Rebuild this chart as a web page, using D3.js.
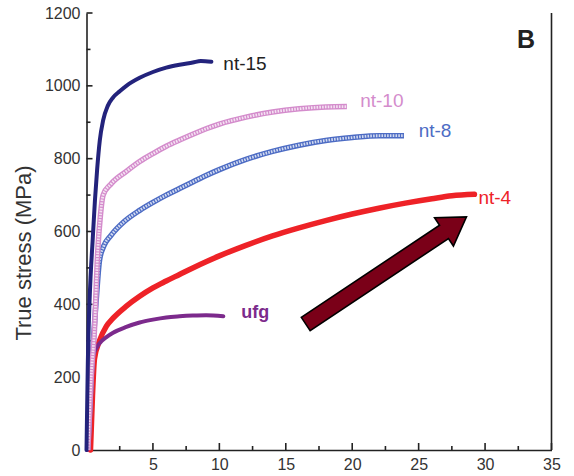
<!DOCTYPE html>
<html>
<head>
<meta charset="utf-8">
<script src="https://cdn.jsdelivr.net/npm/d3@7"></script>
<style>
    body { margin: 0; background: #fff; }
    text { font-family: "Liberation Sans", Arial, sans-serif; }
</style>
</head>
<body>
<div id="chart"></div>
<script>
    // strain (%) / true stress (MPa)
    var nt15 = [[0, 0], [0.1, 240], [0.5, 600], [0.8, 770], [1.0, 850], [1.25, 905], [1.6, 945], [2, 968],
        [2.5, 985], [3, 1000], [4, 1022], [5, 1038], [6, 1050], [7, 1058], [8, 1064], [8.6, 1068], [9.4, 1066]];
    var nt10 = [[0.1, 0], [0.35, 200], [0.6, 330], [0.85, 549], [1.05, 645], [1.25, 700], [1.86, 731], [3, 765],
        [4, 792], [5, 814], [6, 834], [7, 851], [8, 867], [9, 882], [10, 895], [12, 914], [14, 928],
        [16, 937], [18, 942], [19.6, 943]];
    var nt8 = [[0.1, 0], [0.4, 230], [0.73, 411], [0.98, 521], [1.3, 560], [1.86, 590], [2.86, 628], [4, 658],
        [5, 680], [6, 700], [7, 718], [8, 736], [9, 754], [10, 770], [12, 798], [14, 820], [16, 837],
        [18, 850], [20, 858], [22, 863], [23.9, 863]];
    var nt4 = [[0.3, 0], [0.45, 150], [0.6, 250], [0.98, 300], [1.5, 340], [2, 362], [3, 395], [4, 422],
        [5, 445], [6, 464], [7, 482], [8, 500], [9, 517], [10, 533], [12, 562], [14, 588], [16, 610],
        [18, 630], [20, 648], [22, 664], [24, 678], [26, 690], [27.5, 698], [29.2, 702]];
    var ufg = [[0.05, 0], [0.23, 183], [0.47, 256], [0.98, 293], [1.5, 310], [2, 322], [3, 338], [4, 350],
        [5, 358], [6, 364], [7, 367], [8, 369], [9, 370], [10.3, 367]];

    var seriesNames = ["nt-15", "nt-10", "nt-8", "nt-4", "ufg"];
    var seriesValues = [nt15, nt10, nt8, nt4, ufg];
    var seriesColors = ["#23237c", "#d48ccc", "#4d6cc4", "#ee2227", "#7c2a8c"];
    var hollow = [false, true, true, false, false];
    // label anchor in data units
    var labelPos = [[10.3, 1061], [20.6, 960], [25.0, 878], [29.5, 694], [11.65, 379]];

    var xTicks = [5, 10, 15, 20, 25, 30, 35];
    var xMinor = [2.5, 7.5, 12.5, 17.5, 22.5, 27.5, 32.5];
    var yTicks = [0, 200, 400, 600, 800, 1000, 1200];
    var yMinor = [100, 300, 500, 700, 900, 1100];
    var arrowFrom = [16.5, 346];
    var arrowTo = [28.6, 640];

    var width = 574, height = 476;
    var svg = d3.select("#chart").append("svg")
        .attr("width", width)
        .attr("height", height);

    var x = d3.scaleLinear().domain([0, 35]).range([86.5, 551.5]);
    var y = d3.scaleLinear().domain([0, 1200]).range([450, 13]);

    var axisColor = "#222";

    // left axis
    var yAxis = svg.append("g").attr("transform", "translate(" + x(0) + ",0)");
    yAxis.call(d3.axisLeft(y).tickValues(yTicks).tickFormat(d3.format("d")).tickSize(0).tickPadding(6));
    yAxis.select(".domain").attr("stroke", axisColor).attr("stroke-width", 1.6);
    yAxis.selectAll("text").attr("font-size", 16).attr("fill", "#333")
        .attr("font-family", "Liberation Sans, Arial, sans-serif");
    yAxis.selectAll("line.maj").data(yTicks.filter(function (d) { return d > 0; })).enter()
        .append("line").attr("class", "maj")
        .attr("x1", 0).attr("x2", 6)
        .attr("y1", function (d) { return y(d); }).attr("y2", function (d) { return y(d); })
        .attr("stroke", axisColor).attr("stroke-width", 1.6);
    yAxis.selectAll("line.min").data(yMinor).enter()
        .append("line").attr("class", "min")
        .attr("x1", 0).attr("x2", 4)
        .attr("y1", function (d) { return y(d); }).attr("y2", function (d) { return y(d); })
        .attr("stroke", axisColor).attr("stroke-width", 1.6);

    // bottom axis
    var xAxis = svg.append("g").attr("transform", "translate(0," + y(0) + ")");
    xAxis.call(d3.axisBottom(x).tickValues(xTicks).tickSize(0).tickPadding(9));
    xAxis.select(".domain").attr("stroke", axisColor).attr("stroke-width", 1.6);
    xAxis.selectAll("text").attr("font-size", 16).attr("fill", "#333")
        .attr("font-family", "Liberation Sans, Arial, sans-serif");
    xAxis.selectAll("line.maj").data(xTicks).enter()
        .append("line").attr("class", "maj")
        .attr("y1", 0).attr("y2", -7)
        .attr("x1", function (d) { return x(d); }).attr("x2", function (d) { return x(d); })
        .attr("stroke", axisColor).attr("stroke-width", 1.6);
    xAxis.selectAll("line.min").data(xMinor).enter()
        .append("line").attr("class", "min")
        .attr("y1", 0).attr("y2", -4)
        .attr("x1", function (d) { return x(d); }).attr("x2", function (d) { return x(d); })
        .attr("stroke", axisColor).attr("stroke-width", 1.6);

    // right frame line
    svg.append("line")
        .attr("x1", x(35)).attr("x2", x(35))
        .attr("y1", y(1200)).attr("y2", y(0))
        .attr("stroke", axisColor).attr("stroke-width", 1.6);

    svg.append("text")
        .attr("transform", "translate(31," + 253 + ") rotate(-90)")
        .attr("text-anchor", "middle")
        .attr("font-size", 22)
        .attr("fill", "#333")
        .text("True stress (MPa)");

    var line = d3.line()
        .x(function (d) { return x(d[0]); })
        .y(function (d) { return y(d[1]); })
        .curve(d3.curveMonotoneX);

    var curves = svg.append("g");
    // draw back to front so the thin early parts overlap like the figure
    [3, 4, 2, 1, 0].forEach(function (i) {
        if (hollow[i]) {
            curves.append("path")
                .attr("d", line(seriesValues[i]))
                .attr("fill", "none")
                .attr("stroke", seriesColors[i])
                .attr("stroke-width", 5.5)
                .attr("stroke-linejoin", "round");
            curves.append("path")
                .attr("d", line(seriesValues[i]))
                .attr("fill", "none")
                .attr("stroke", "#fff")
                .attr("stroke-opacity", 0.75)
                .attr("stroke-width", 2.8)
                .attr("stroke-dasharray", "1.6,1.2");
        } else {
            curves.append("path")
                .attr("d", line(seriesValues[i]))
                .attr("fill", "none")
                .attr("stroke", seriesColors[i])
                .attr("stroke-width", i === 3 ? 5.5 : 4)
                .attr("stroke-linejoin", "round")
                .attr("stroke-linecap", "round");
        }
    });

    svg.selectAll("text.lbl").data(seriesNames).enter()
        .append("text")
        .attr("class", "lbl")
        .attr("x", function (d, i) { return x(labelPos[i][0]); })
        .attr("y", function (d, i) { return y(labelPos[i][1]); })
        .attr("dy", "0.35em")
        .attr("font-size", function (d) { return d === "ufg" ? 18 : 19; })
        .attr("font-weight", function (d) { return d === "ufg" ? "bold" : "normal"; })
        .attr("fill", function (d, i) { return i === 0 ? "#222" : seriesColors[i]; })
        .text(function (d) { return d; });

    // block arrow
    var ax0 = x(arrowFrom[0]), ay0 = y(arrowFrom[1]);
    var ax1 = x(arrowTo[0]), ay1 = y(arrowTo[1]);
    var len = Math.sqrt((ax1 - ax0) * (ax1 - ax0) + (ay1 - ay0) * (ay1 - ay0));
    var ang = Math.atan2(ay1 - ay0, ax1 - ax0) * 180 / Math.PI;
    var hw = 8, headW = 17, headL = 27;
    svg.append("path")
        .attr("transform", "translate(" + ax0 + "," + ay0 + ") rotate(" + ang + ")")
        .attr("d", "M0," + (-hw) + "L" + (len - headL) + "," + (-hw) + "L" + (len - headL) + "," + (-headW) +
            "L" + len + ",0L" + (len - headL) + "," + headW + "L" + (len - headL) + "," + hw + "L0," + hw + "Z")
        .attr("fill", "#7a0018")
        .attr("stroke", "#000")
        .attr("stroke-width", 1.6)
        .attr("stroke-linejoin", "miter");

    svg.append("text")
        .attr("x", x(32.4))
        .attr("y", y(1127))
        .attr("dy", "0.35em")
        .attr("font-size", 25)
        .attr("font-weight", "bold")
        .attr("fill", "#222")
        .text("B");
</script>
</body>
</html>
